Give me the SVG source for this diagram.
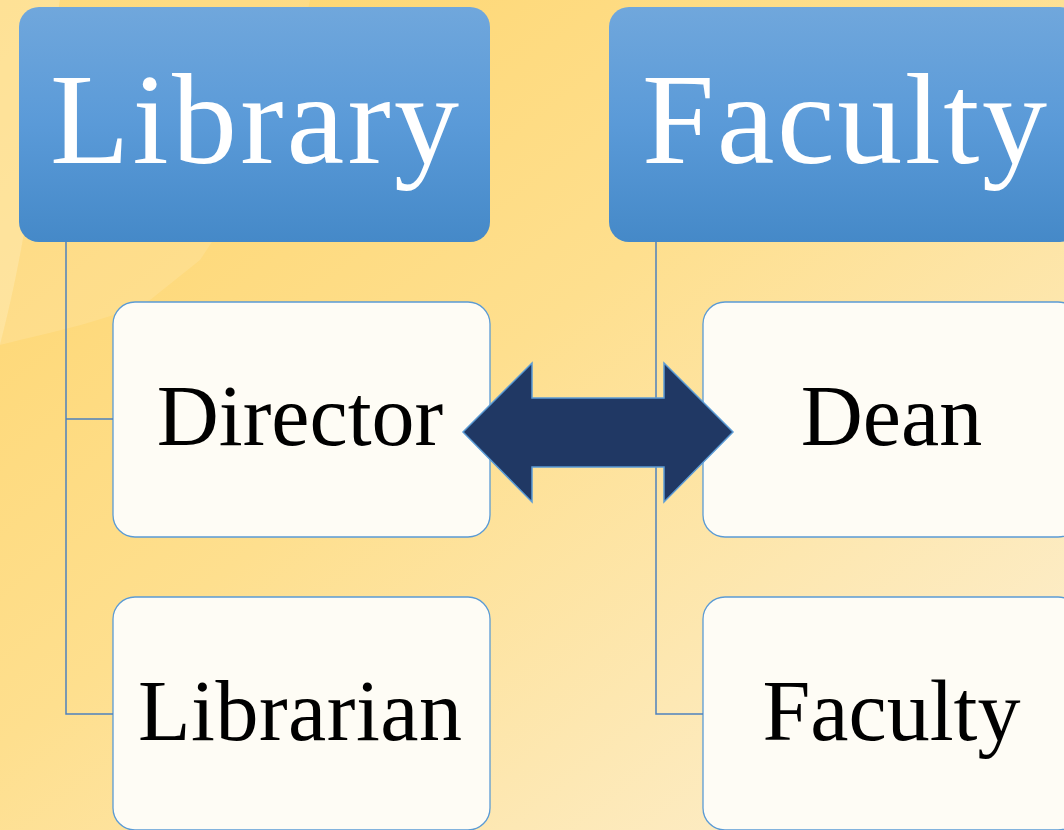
<svg xmlns="http://www.w3.org/2000/svg" width="1064" height="830" viewBox="0 0 1064 830">
<defs>
<linearGradient id="bg" x1="0" y1="0" x2="1" y2="1">
<stop offset="0" stop-color="#fed46a"/>
<stop offset="0.45" stop-color="#fedf8e"/>
<stop offset="1" stop-color="#fcf0d6"/>
</linearGradient>
<linearGradient id="hdr" x1="0" y1="0" x2="0" y2="1">
<stop offset="0" stop-color="#70a7dc"/>
<stop offset="0.5" stop-color="#5a9ad8"/>
<stop offset="1" stop-color="#4589c8"/>
</linearGradient>
<style>
.hdr{fill:url(#hdr);}
.box{fill:#fefcf5;stroke:#5b9bd5;stroke-width:1.3;}
.ht{font-family:"Liberation Serif","Times New Roman",serif;font-size:130px;fill:#ffffff;text-anchor:middle;}
.ct{font-family:"Liberation Serif","Times New Roman",serif;font-size:86px;fill:#000000;text-anchor:middle;}
.ln{fill:none;stroke:#4f81bd;stroke-width:1.5;}
.arr{fill:#203864;stroke:#5b9bd5;stroke-width:1.5;stroke-linejoin:miter;}
</style>
</defs>
<rect x="0" y="0" width="1064" height="830" fill="url(#bg)"/>
<path d="M0 0 H60 C40 120 30 230 0 345 Z" fill="#fff2cc" opacity="0.45"/>
<path d="M0 345 C60 330 110 320 150 300 L200 260 C240 200 280 150 310 0 H60 C40 120 30 230 0 345 Z" fill="#fff" opacity="0.12"/>
<g id="node-library">
<rect class="hdr" x="19" y="7" width="471" height="235" rx="20"/>
<text class="ht" x="254.5" y="163" textLength="409" lengthAdjust="spacing">Library</text>
</g>
<g id="node-faculty-head">
<rect class="hdr" x="609" y="7" width="471" height="235" rx="20"/>
<text class="ht" x="844.5" y="163" textLength="405" lengthAdjust="spacing">Faculty</text>
</g>
<g id="node-director">
<rect class="box" x="113" y="302" width="377" height="235" rx="22"/>
<text class="ct" x="300" y="445">Director</text>
</g>
<g id="node-librarian">
<rect class="box" x="113" y="597" width="377" height="233" rx="22"/>
<text class="ct" x="300" y="740" textLength="324" lengthAdjust="spacing">Librarian</text>
</g>
<g id="node-dean">
<rect class="box" x="703" y="302" width="377" height="235" rx="22"/>
<text class="ct" x="891.5" y="445">Dean</text>
</g>
<g id="node-faculty">
<rect class="box" x="703" y="597" width="377" height="233" rx="22"/>
<text class="ct" x="891.5" y="740">Faculty</text>
</g>
<g id="connectors">
<path class="ln" d="M66 242 V714 H113 M66 419 H113"/>
<path class="ln" d="M656 242 V714 H703 M656 419 H703"/>
<polygon class="arr" points="463,432 532,363 532,398 664,398 664,363 733,432 664,502 664,467 532,467 532,502"/>
</g>
</svg>
